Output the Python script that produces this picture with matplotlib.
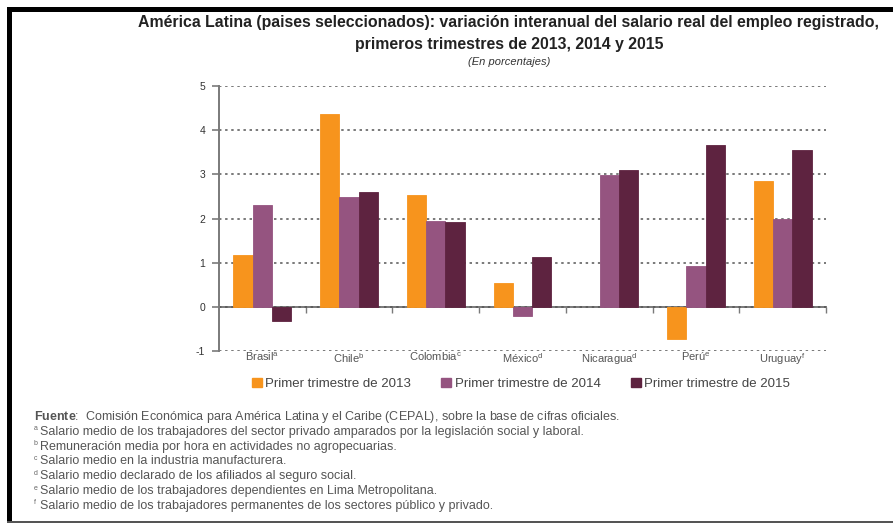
import numpy as np
import matplotlib
matplotlib.use("Agg")
import matplotlib.pyplot as plt
from matplotlib.patches import Rectangle, Patch

plt.rcParams['font.family'] = ['Liberation Sans', 'DejaVu Sans']
plt.rcParams['mathtext.fontset'] = 'custom'
plt.rcParams['mathtext.rm'] = 'Liberation Sans'
plt.rcParams['mathtext.bf'] = 'Liberation Sans:bold'
plt.rcParams['mathtext.default'] = 'regular'

# Data
countries = ["Brasil", "Chile", "Colombia", "México", "Nicaragua", "Perú", "Uruguay"]
notes = ["a", "b", "c", "d", "d", "e", "f"]
q1_2013 = [1.18, 4.37, 2.54, 0.55, np.nan, -0.73, 2.84]
q1_2014 = [2.31, 2.48, 1.95, -0.20, 2.99, 0.93, 1.99]
q1_2015 = [-0.33, 2.60, 1.92, 1.12, 3.09, 3.67, 3.55]
series_labels = ["Primer trimestre de 2013", "Primer trimestre de 2014", "Primer trimestre de 2015"]
colors = ["#F7941D", "#955480", "#5E2340"]
y_ticks = [-1, 0, 1, 2, 3, 4, 5]

source_text = "Comisión Económica para América Latina y el Caribe (CEPAL), sobre la base de cifras oficiales."
footnotes = [
    ("a", "Salario medio de los trabajadores del sector privado amparados por la legislación social y laboral."),
    ("b", "Remuneración media por hora en actividades no agropecuarias."),
    ("c", "Salario medio en la industria manufacturera."),
    ("d", "Salario medio declarado de los afiliados al seguro social."),
    ("e", "Salario medio de los trabajadores dependientes en Lima Metropolitana."),
    ("f", "Salario medio de los trabajadores permanentes de los sectores público y privado."),
]

W, H = 893, 523
fig = plt.figure(figsize=(W / 100, H / 100), dpi=100)
fig.patch.set_facecolor("white")

# Frame around the figure
fig.add_artist(Rectangle((7 / W, 1 - 12 / H), 1 - 7 / W, 5 / H, transform=fig.transFigure,
                         facecolor="black", edgecolor="none"))
fig.add_artist(Rectangle((7 / W, 0), 5 / W, 1 - 7 / H, transform=fig.transFigure,
                         facecolor="black", edgecolor="none"))
fig.add_artist(Rectangle((7 / W, 0), 1 - 7 / W, 2.5 / H, transform=fig.transFigure,
                         facecolor="#555555", edgecolor="none"))

ax_left, ax_right = 219 / W, 826 / W
ax_top, ax_bottom = 1 - 86 / H, 1 - 351 / H
ax = fig.add_axes([ax_left, ax_bottom, ax_right - ax_left, ax_top - ax_bottom])

n = len(countries)
x = np.arange(n)
bw = 0.222
for i, (vals, c, lab) in enumerate(zip([q1_2013, q1_2014, q1_2015], colors, series_labels)):
    ax.bar(x + (i - 1) * bw, vals, width=bw, color=c, edgecolor=c, linewidth=0.6,
           label=lab, zorder=3)

ax.set_xlim(-0.5, n - 0.5)
ax.set_ylim(-1, 5)
ax.set_yticks(y_ticks)
ax.set_yticklabels([str(t) for t in y_ticks])
ax.yaxis.grid(True, color="#555555", linestyle=(0, (1.6, 2.4)), linewidth=1.1, zorder=0)
ax.set_axisbelow(True)

for s in ["top", "right", "bottom"]:
    ax.spines[s].set_visible(False)
ax.spines["left"].set_color("#7a7a7a")
ax.spines["left"].set_linewidth(1.4)
ax.tick_params(axis="y", direction="out", length=5, width=1.2, color="#7a7a7a",
               labelsize=7.5, labelcolor="#333333", pad=5)

# Category labels below the lowest gridline
ax.set_xticks(x)
ax.set_xticklabels([f"{c}$^{{{nt}}}$" for c, nt in zip(countries, notes)],
                   fontsize=8, color="#555555")
ax.tick_params(axis="x", length=0, pad=0)

# Zero line with separators between country groups
zero_frac = (0 - (-1)) / (5 - (-1))
sec = ax.secondary_xaxis(zero_frac)
sec.set_xticks(np.arange(n) + 0.5)
sec.tick_params(axis="x", direction="out", length=4, width=1, color="#7a7a7a", labelbottom=False)
sec.spines["bottom"].set_color("#7a7a7a")
sec.spines["bottom"].set_linewidth(1.4)

# Titles
cx = 509 / W
fig.text(cx, 1 - 22 / H, "América Latina (paises seleccionados): variación interanual del salario real del empleo registrado,",
         ha="center", va="center", fontsize=11.4, fontweight="bold", color="#222222")
fig.text(cx, 1 - 44 / H, "primeros trimestres de 2013, 2014 y 2015",
         ha="center", va="center", fontsize=11.4, fontweight="bold", color="#222222")
fig.text(cx, 1 - 62 / H, "(En porcentajes)", ha="center", va="center", fontsize=8,
         style="italic", color="#333333")

# Legend
handles = [Patch(facecolor=c, edgecolor=c) for c in colors]
fig.legend(handles, series_labels, loc="center", bbox_to_anchor=(521 / W, 1 - 384 / H), ncol=3,
           frameon=False, fontsize=9.5, handlelength=0.75, handleheight=0.75, handletextpad=0.25,
           columnspacing=2.3, labelcolor="#444444")

# Source and notes
y0, dy = 417, 14.8
fig.text(34 / W, 1 - y0 / H, r"$\mathbf{Fuente}$:  " + source_text,
         ha="left", va="center", fontsize=9.0, color="#555555")
for k, (letter, txt) in enumerate(footnotes):
    yy = 1 - (y0 + dy * (k + 1)) / H
    fig.text(34 / W, yy + 3 / H, letter, ha="left", va="center", fontsize=5, color="#666666")
    fig.text(40 / W, yy, txt, ha="left", va="center", fontsize=9.0, color="#555555")

fig.savefig("out.png", dpi=100, facecolor="white")
